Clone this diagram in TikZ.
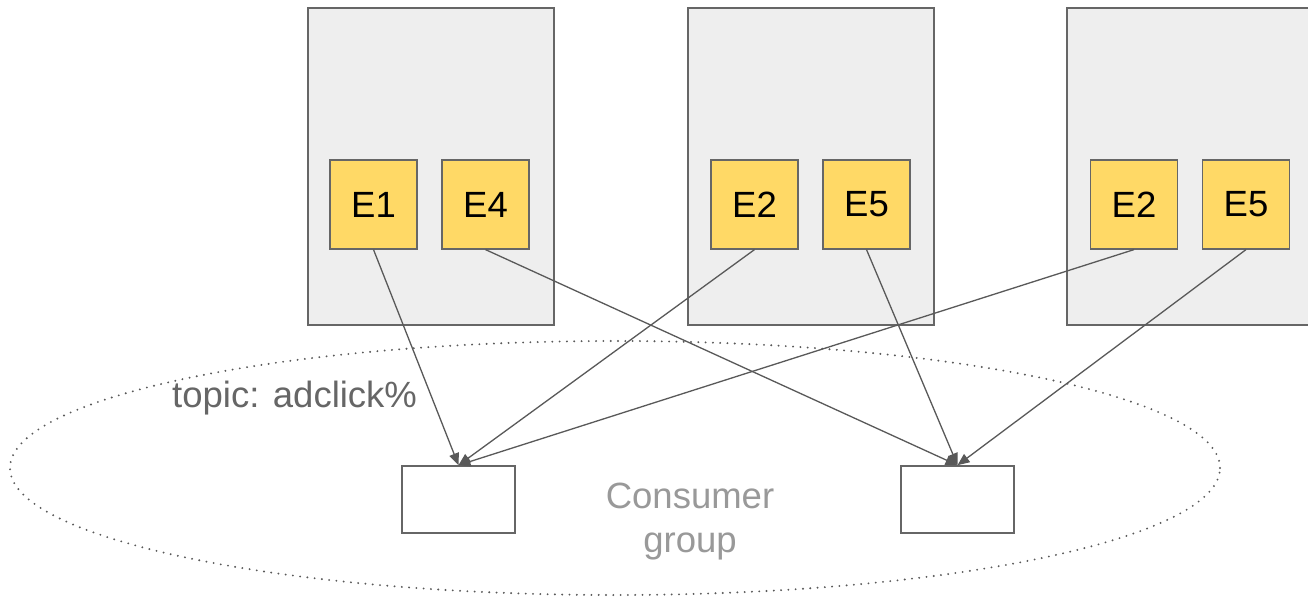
\documentclass[tikz,border=0pt]{standalone}
\usepackage{fontspec}
\setmainfont{Liberation Sans}
\usetikzlibrary{arrows.meta,shapes.geometric}
\definecolor{panel}{HTML}{EEEEEE}
\definecolor{edge}{HTML}{666666}
\definecolor{evt}{HTML}{FFD966}
\definecolor{wire}{HTML}{595959}
\definecolor{faint}{HTML}{999999}
\begin{document}
\begin{tikzpicture}[x=1pt,y=-1pt,
  broker/.style={draw=edge, fill=panel, line width=1.6pt, minimum width=246pt, minimum height=317pt, inner sep=0pt},
  event/.style={draw=edge, fill=evt, line width=1.2pt, minimum width=87pt, minimum height=89pt, inner sep=0pt, font=\fontsize{36.5}{40}\selectfont},
  consumer/.style={draw=edge, fill=white, line width=1.6pt, minimum width=113pt, minimum height=67pt, inner sep=0pt},
  flow/.style={draw=wire, line width=1.3pt, -{Triangle[length=12pt,width=10pt]}},
  groupring/.style={draw=wire, ellipse, line width=2.1pt, dash pattern=on 0pt off 7.3pt, line cap=round, minimum width=1210pt, minimum height=254pt, inner sep=0pt},
  label/.style={inner sep=0pt, font=\fontsize{36.5}{44}\selectfont}]
\clip (0,0) rectangle (1308,597);
\fill[white] (0,0) rectangle (1308,597);

% consumer group boundary
\node[groupring] (ring) at (615,468) {};

% brokers
\node[broker] (b1) at (431,166.5) {};
\node[broker] (b2) at (811,166.5) {};
\node[broker] (b3) at (1190,166.5) {};

% partitions
\node[event] (e1) at (373.5,204.5) {E1};
\node[event] (e4) at (485.5,204.5) {E4};
\node[event] (e2) at (754.5,204.5) {E2};
\node[event] (e5) at (866.5,204.5) {E5};
\node[event] (e2b) at (1134,204.5) {E2};
\node[event] (e5b) at (1246,204.5) {E5};

% consumers
\node[consumer] (c1) at (458.5,499.5) {};
\node[consumer] (c2) at (957.5,499.5) {};

% labels
\node[label, anchor=base west, text=edge] (topic) at (172,407) {topic: adclick\%};
\node[label, align=center, text=faint, anchor=base] (grp) at (690,552) {Consumer\\group};

% assignments
\draw[flow] (e1.south) -- (c1.north);
\draw[flow] (e2.south) -- (c1.north);
\draw[flow] (e2b.south) -- (c1.north);
\draw[flow] (e4.south) -- (c2.north);
\draw[flow] (e5.south) -- (c2.north);
\draw[flow] (e5b.south) -- (c2.north);
\end{tikzpicture}
\end{document}
